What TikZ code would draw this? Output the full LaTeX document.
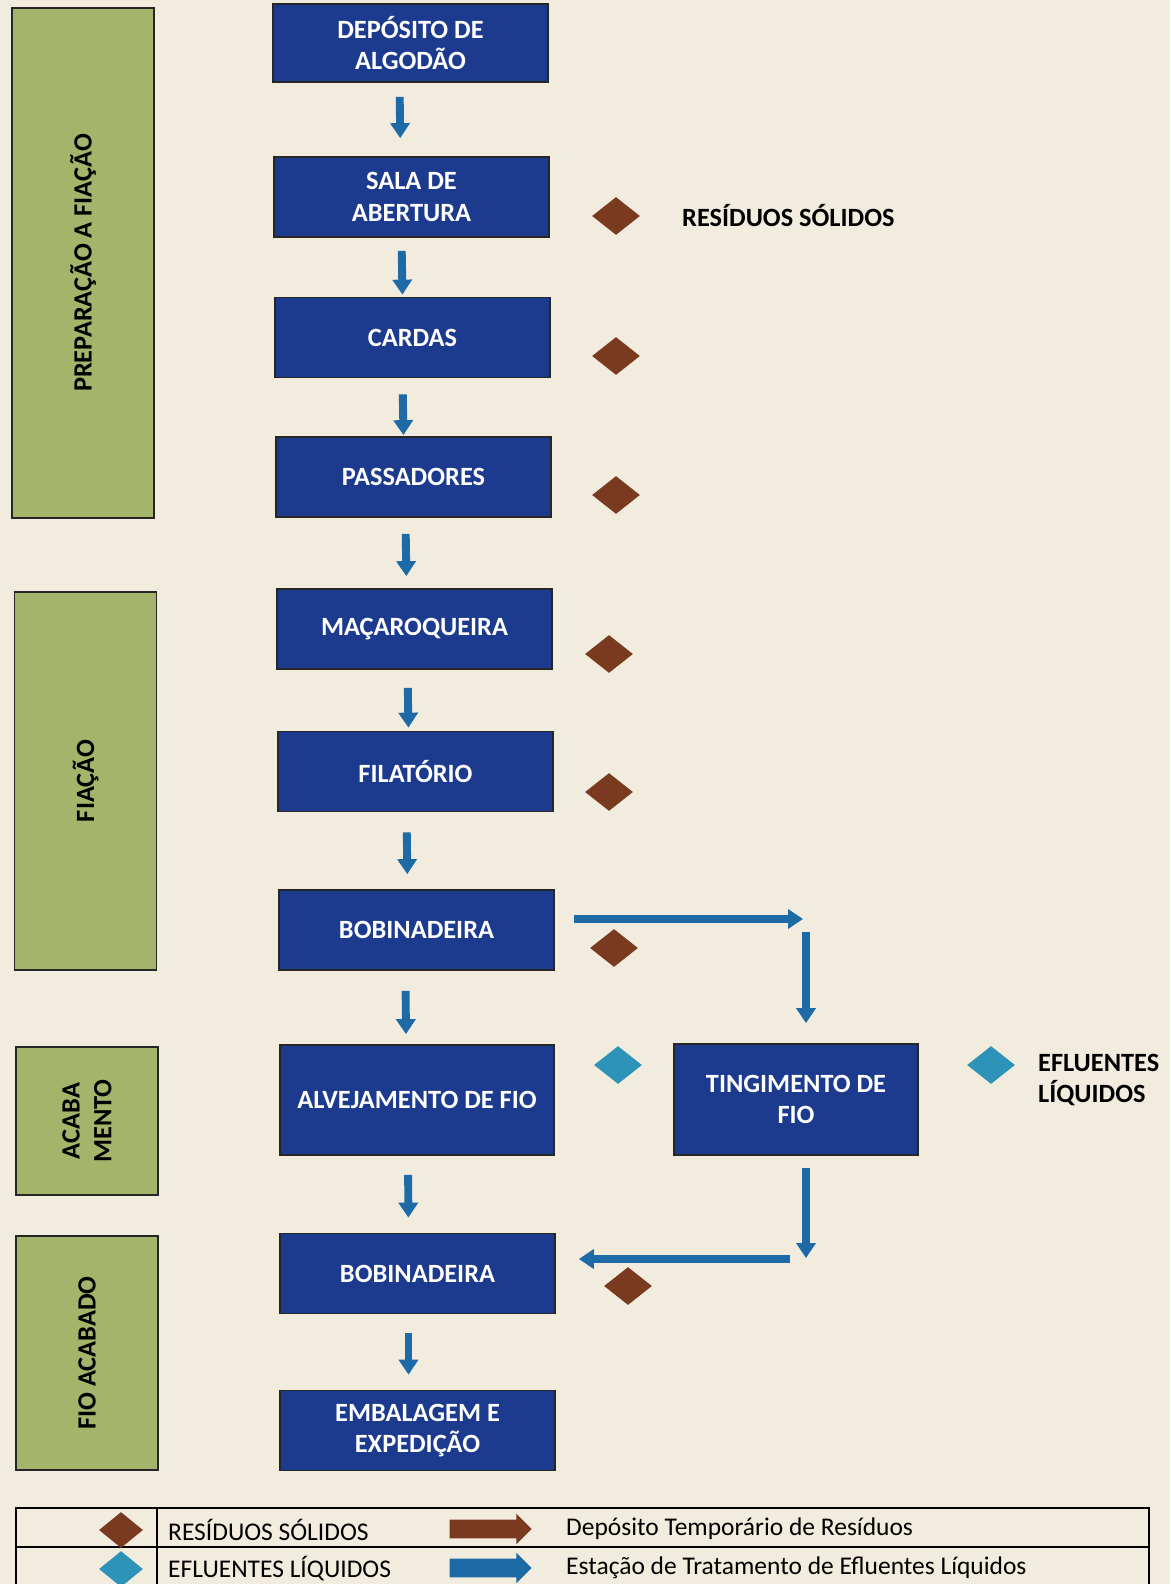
\documentclass[tikz,border=0pt]{standalone}
\usepackage{fontspec}
\setmainfont{Carlito}
\usetikzlibrary{arrows.meta,shapes.geometric,shapes.arrows}

\definecolor{paper}{HTML}{F2ECDF}
\definecolor{boxblue}{HTML}{1C3A8E}
\definecolor{phasegreen}{HTML}{A4B46A}
\definecolor{flowblue}{HTML}{1E6AA6}
\definecolor{solidbrown}{HTML}{7A3A1F}
\definecolor{liquidteal}{HTML}{2E93B9}

\begin{document}
\begin{tikzpicture}[x=0.02cm, y=-0.02cm,
  stage/.style={rectangle, draw=black!85, line width=1pt, fill=boxblue, text=white,
    font=\bfseries\fontsize{15}{18}\selectfont, align=center,
    minimum width=5.5cm, minimum height=1.6cm, inner sep=0pt},
  phase/.style={rectangle, draw=black!85, line width=1pt, fill=phasegreen, rotate=90,
    font=\bfseries\fontsize{15}{18}\selectfont, align=center, minimum height=2.84cm, inner sep=0pt},
  flow/.style={draw=flowblue, line width=4.5pt, -{Triangle[width=0.38cm,length=0.3cm]}, shorten <=0.36cm},
  waste/.style={diamond, fill=solidbrown, minimum width=0.96cm, minimum height=0.76cm, inner sep=0pt},
  effluent/.style={waste, fill=liquidteal},
  legendarrow/.style={single arrow, minimum height=1.64cm, inner xsep=0pt, inner ysep=0.18cm,
    single arrow head extend=0.12cm},
  note/.style={anchor=west, font=\bfseries\fontsize{15}{18}\selectfont, align=left},
  legendtext/.style={anchor=west, font=\fontsize{14.5}{17}\selectfont}]

  \useasboundingbox (0,0) rectangle (1170,1584);
  \fill[paper] (0,0) rectangle (1170,1584);

  % phases
  \node[phase, minimum width=10.2cm] (prep) at (83,263) {PREPARAÇÃO A FIAÇÃO};
  \node[phase, minimum width=7.56cm] (fiac) at (85.5,781) {FIAÇÃO};
  \node[phase, minimum width=2.96cm] (acab) at (87,1121) {ACABA\\MENTO};
  \node[phase, minimum width=4.68cm] (fioa) at (87,1353) {FIO ACABADO};

  % process steps
  \node[stage, minimum height=1.56cm] (dep) at (410.5,43) {DEPÓSITO DE\\ALGODÃO};
  \node[stage] (sala) at (411.5,197) {SALA DE\\ABERTURA};
  \node[stage] (card) at (412.5,337.5) {CARDAS};
  \node[stage] (pass) at (413.5,477) {PASSADORES};
  \node[stage] (mac) at (414.5,629) {MAÇAROQUEIRA};
  \node[stage] (fil) at (415.5,771.5) {FILATÓRIO};
  \node[stage] (bob) at (416.5,930) {BOBINADEIRA};
  \node[stage, minimum width=5.48cm, minimum height=2.2cm] (alv) at (417,1100) {ALVEJAMENTO DE FIO};
  \node[stage] (bobf) at (417.5,1273.5) {BOBINADEIRA};
  \node[stage] (emb) at (417.5,1430.5) {EMBALAGEM E\\EXPEDIÇÃO};
  \node[stage, minimum width=4.88cm, minimum height=2.22cm] (ting) at (796,1099.5) {TINGIMENTO DE\\FIO};

  % main flow
  \draw[flow, shorten <=0.28cm, shorten >=0.36cm] ([xshift=-0.22cm]dep.south) -- ([xshift=-0.22cm]sala.north);
  \draw[flow, shorten <=0.26cm, shorten >=0.04cm] ([xshift=-0.2cm]sala.south) -- ([xshift=-0.2cm]card.north);
  \draw[flow, shorten <=0.32cm, shorten >=0.02cm] ([xshift=-0.2cm]card.south) -- ([xshift=-0.2cm]pass.north);
  \draw[flow, shorten <=0.32cm, shorten >=0.24cm] ([xshift=-0.16cm]pass.south) -- ([xshift=-0.16cm]mac.north);
  \draw[flow, shorten <=0.36cm, shorten >=0.06cm] ([xshift=-0.14cm]mac.south) -- ([xshift=-0.14cm]fil.north);
  \draw[flow, shorten <=0.4cm, shorten >=0.3cm] ([xshift=-0.18cm]fil.south) -- ([xshift=-0.18cm]bob.north);
  \draw[flow, shorten <=0.4cm, shorten >=0.2cm] ([xshift=-0.22cm]bob.south) -- ([xshift=-0.22cm]alv.north);
  \draw[flow, shorten <=0.38cm, shorten >=0.3cm] ([xshift=-0.18cm]alv.south) -- ([xshift=-0.18cm]bobf.north);
  \draw[flow, shorten <=0.38cm, shorten >=0.3cm] ([xshift=-0.18cm]bobf.south) -- ([xshift=-0.18cm]emb.north);

  % dyeing loop
  \coordinate (c1) at (806,919);
  \coordinate (c2) at (806,1259);
  \draw[flow, shorten <=0.38cm, shorten >=0.06cm] (bob.east |- c1) -- (c1);
  \draw[flow, shorten <=0.26cm, shorten >=0.4cm] (c1) -- (c1 |- ting.north);
  \draw[flow, shorten <=0.24cm, shorten >=0.02cm] (c1 |- ting.south) -- (c2);
  \draw[flow, shorten <=0.32cm, shorten >=0.46cm] (c2) -- (bobf.east |- c2);

  % residues
  \node[waste] (w1) at (616,216) {};
  \node[waste] (w2) at (616,356) {};
  \node[waste] (w3) at (616,495) {};
  \node[waste] (w4) at (609,654) {};
  \node[waste] (w5) at (609,792) {};
  \node[waste] (w6) at (614,948) {};
  \node[waste] (w7) at (628,1286) {};
  \node[effluent] (e1) at (618,1065) {};
  \node[effluent] (e2) at (991,1065) {};
  \node[note] (wlabel) at (676,216) {RESÍDUOS SÓLIDOS};
  \node[note] (elabel) at (1032,1080) {EFLUENTES\\LÍQUIDOS};

  % legend
  \draw[line width=1pt] (16,1590) -- (16,1508) -- (1149,1508) -- (1149,1590);
  \draw[line width=1pt] (16,1547) -- (1149,1547);
  \draw[line width=1pt] (157,1508) -- (157,1590);
  \node[waste, minimum width=0.88cm, minimum height=0.72cm] (lw) at (121,1530) {};
  \node[effluent, minimum width=0.88cm, minimum height=0.72cm] (le) at (121,1569) {};
  \node[legendtext] (lwt) at (162,1530) {RESÍDUOS SÓLIDOS};
  \node[legendtext] (let) at (162,1569) {EFLUENTES LÍQUIDOS};
  \node[legendarrow, fill=solidbrown] (la1) at (486,1529) {};
  \node[legendarrow, fill=flowblue] (la2) at (486,1568) {};
  \node[legendtext] (lat1) at (560,1529) {Depósito Temporário de Resíduos};
  \node[legendtext] (lat2) at (560,1568) {Estação de Tratamento de Efluentes Líquidos};
\end{tikzpicture}
\end{document}
